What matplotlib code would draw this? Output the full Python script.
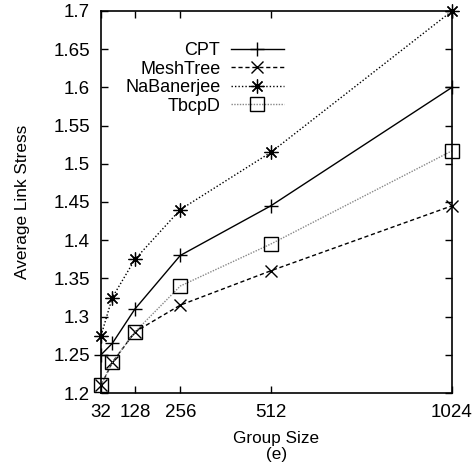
import matplotlib
matplotlib.use("Agg")
import matplotlib.pyplot as plt

group_size = [32, 64, 128, 256, 512, 1024]
cpt = [1.25, 1.265, 1.31, 1.38, 1.445, 1.60]
meshtree = [1.21, 1.24, 1.28, 1.315, 1.36, 1.445]
nabanerjee = [1.275, 1.325, 1.375, 1.44, 1.515, 1.70]
tbcpd = [1.21, 1.24, 1.28, 1.34, 1.395, 1.517]
xticks = [32, 128, 256, 512, 1024]

plt.rcParams['font.family'] = ['Liberation Sans', 'DejaVu Sans']

fig = plt.figure(figsize=(4.75, 4.69), dpi=100)
ax = fig.add_axes([101/475, 1-393/469, 351/475, 382/469])

ax.plot(group_size, cpt, color='black', lw=1, marker='+', ms=10, mew=1, label='CPT', clip_on=False)
ax.plot(group_size, meshtree, color='black', lw=1, ls=(0, (3, 2)), marker='x', ms=8, mew=1,
        label='MeshTree', clip_on=False)
ax.plot(group_size, nabanerjee, color='black', lw=1, ls=(0, (1, 1.5)), marker=(8, 2, 0), ms=10, mew=0.9,
        label='NaBanerjee', clip_on=False)
ax.plot(group_size, tbcpd, color='#888888', lw=1, ls=(0, (1, 1)), marker='s', ms=10, mew=1,
        mfc='none', mec='black', label='TbcpD', clip_on=False)

ax.set_xlim(32, 1024)
ax.set_ylim(1.2, 1.7)
ax.set_xticks(xticks)
ax.set_xticklabels([str(v) for v in xticks])
ax.set_yticks([1.2 + 0.05*i for i in range(11)])
ax.set_yticklabels(['1.2', '1.25', '1.3', '1.35', '1.4', '1.45', '1.5', '1.55', '1.6', '1.65', '1.7'])
ax.tick_params(direction='in', top=True, right=True, length=5, width=1, labelsize=13.5, pad=8)
for s in ax.spines.values():
    s.set_linewidth(1.2)

ax.set_ylabel('Average Link Stress', fontsize=12.4, labelpad=17)
ax.set_xlabel('Group Size\n(e)', fontsize=12.3, linespacing=1.08, labelpad=7)

leg = ax.legend(loc='upper left', bbox_to_anchor=(0.048, 0.937), frameon=False, markerfirst=False,
                handlelength=2.9, handletextpad=0.6, fontsize=13, labelspacing=0.08, borderaxespad=0)
for t in leg.get_texts():
    t.set_ha('right')
leg._legend_box.align = 'right'

plt.savefig('out.png', dpi=100)
